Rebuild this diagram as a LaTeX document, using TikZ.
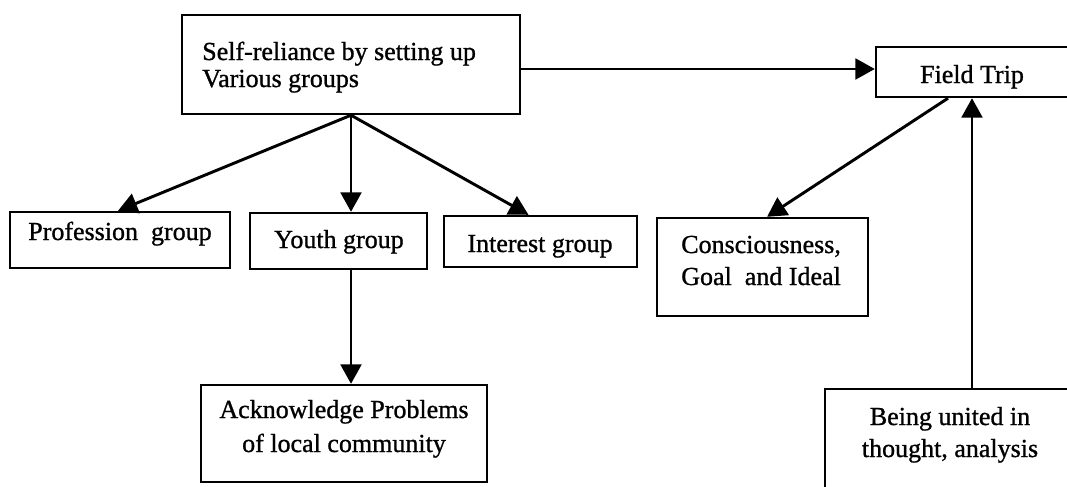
\documentclass[tikz,border=0pt]{standalone}
\usepackage{fontspec}
\setmainfont{Liberation Serif}[FakeBold=1]
\usetikzlibrary{arrows.meta}
\begin{document}
\begin{tikzpicture}[x=0.75pt,y=-0.75pt,
  box/.style={draw,line width=1.8pt,inner sep=0pt,rectangle},
  txt/.style={inner sep=0pt,font=\fontsize{19.5}{24}\selectfont},
  arr/.style={line width=2.2pt,-{Triangle[length=14.5pt,width=15.5pt]}}]
\useasboundingbox (0,0) rectangle (1067,486);
\clip (0,0) rectangle (1067,486);
% boxes
\node[box,minimum width=253.5pt,minimum height=74.25pt] (top) at (351,64.5) {};
\node[box,minimum width=147pt,minimum height=37.5pt] (field) at (974,72) {};
\node[box,minimum width=165pt,minimum height=42pt] (prof) at (120,240) {};
\node[box,minimum width=132.75pt,minimum height=42pt] (youth) at (338.5,241) {};
\node[box,minimum width=144.75pt,minimum height=38.25pt] (interest) at (540.5,241.5) {};
\node[box,minimum width=158.25pt,minimum height=73.5pt] (cons) at (762.5,267) {};
\node[box,minimum width=214.5pt,minimum height=72.75pt] (ack) at (344,433.5) {};
\node[box,minimum width=187.5pt,minimum height=87pt] (unit) at (950,447) {};
% texts
\node[txt,anchor=base west] (topT1) at (202,60) {Self-reliance by setting up};
\node[txt,anchor=base west] (topT2) at (202,87) {Various groups};
\node[txt,anchor=base] (fieldT) at (972,83) {Field Trip};
\node[txt,anchor=base] (profT) at (120,240) {Profession\ \ group};
\node[txt,anchor=base] (youthT) at (339,248) {Youth group};
\node[txt,anchor=base] (interestT) at (540,252) {Interest group};
\node[txt,anchor=base west] (consT1) at (681,253) {Consciousness,};
\node[txt,anchor=base west] (consT2) at (681,285) {Goal\ \ and Ideal};
\node[txt,anchor=base] (ackT1) at (344,418) {Acknowledge Problems};
\node[txt,anchor=base] (ackT2) at (344,452) {of local community};
\node[txt,anchor=base] (unitT1) at (950,425) {Being united in};
\node[txt,anchor=base] (unitT2) at (950,457) {thought, analysis};
% connectors
\coordinate (hl) at (0,69);
\draw[arr] (top.east |- hl) -- (field.west |- hl);
\draw[arr] (top.south) -- ([xshift=-1.5pt]prof.north);
\draw[arr] (top.south) -- (youth.north -| top.south);
\draw[arr] (top.south) -- ([xshift=-9pt]interest.north);
\draw[arr] ([xshift=-19.5pt]field.south) -- ([xshift=3.4pt]cons.north);
\draw[arr] (youth.south -| top.south) -- (ack.north -| top.south);
\draw[arr] ([xshift=-1.5pt]field.south |- unit.north) -- ([xshift=-1.5pt]field.south);
\end{tikzpicture}
\end{document}
